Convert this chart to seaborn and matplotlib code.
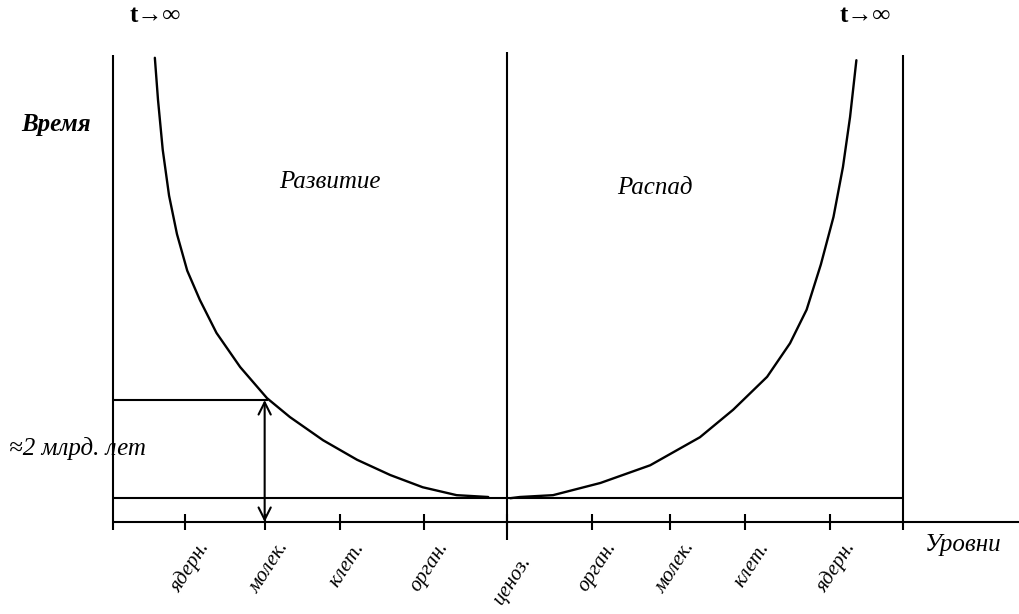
import numpy as np
import pandas as pd
import matplotlib
matplotlib.use("Agg")
import matplotlib.pyplot as plt
import seaborn as sns

# уровни организации (позиции делений по оси)
level_pos = [0.91, 1.92, 2.87, 3.94, 4.99, 6.06, 7.05, 8.0, 9.08]
level_labels = ['ядерн.', 'молек.', 'клет.', 'орган.', 'ценоз.',
                'орган.', 'молек.', 'клет.', 'ядерн.']

# кривая развития (левая ветвь)
dev_x = [0.53, 0.57, 0.63, 0.71, 0.81, 0.94, 1.10, 1.31, 1.61, 1.95,
         2.24, 2.66, 3.09, 3.51, 3.92, 4.35, 4.75]
dev_t = [7.61, 6.92, 6.10, 5.35, 4.72, 4.12, 3.64, 3.10, 2.54, 2.03,
         1.72, 1.34, 1.02, 0.77, 0.57, 0.44, 0.41]

# кривая распада (правая ветвь)
dec_x = [5.03, 5.15, 5.57, 6.17, 6.80, 7.43, 7.85, 8.28, 8.57, 8.78,
         8.96, 9.12, 9.24, 9.33, 9.41]
dec_t = [0.39, 0.41, 0.44, 0.64, 0.93, 1.39, 1.84, 2.38, 2.93, 3.48,
         4.22, 5.00, 5.82, 6.64, 7.57]

t_base = 0.39     # нижний уровень кривых
t_mark = 2.0      # ≈2 млрд. лет
x_mark = 1.92
t_top = 7.66

sns.set_theme(style="white")
plt.rcParams['font.family'] = ['Liberation Serif', 'DejaVu Serif']
plt.rcParams['text.color'] = 'black'

fig = plt.figure(figsize=(10.2, 6.14), dpi=100)
ax = fig.add_axes([0, 0, 1, 1])
ax.set_xlim(-1.430, 11.481)
ax.set_ylim(-1.508, 8.557)
ax.axis('off')

dev = pd.DataFrame({'x': dev_x, 't': dev_t})
dec = pd.DataFrame({'x': dec_x, 't': dec_t})
for d in (dev, dec):
    sns.lineplot(data=d, x='x', y='t', sort=False, color='black', lw=1.7,
                 solid_joinstyle='round', ax=ax)

lw = 1.5
# стенки
ax.vlines(0, -0.13, t_top, color='black', lw=lw)
ax.vlines(10, -0.13, t_top, color='black', lw=lw)
ax.vlines(4.99, -0.3, 7.70, color='black', lw=lw)
# ось уровней и базовая линия
ax.hlines(0, 0, 11.481, color='black', lw=lw)
ax.hlines(t_base, 0, 10, color='black', lw=lw)
ax.hlines(t_mark, 0, 1.96, color='black', lw=lw)

# деления
for p in level_pos:
    ax.vlines(p, -0.13, 0.13, color='black', lw=lw)

ax.annotate('', xy=(x_mark, 0.0), xytext=(x_mark, t_mark),
            arrowprops=dict(arrowstyle='<->', color='black', lw=1.5,
                            mutation_scale=22, shrinkA=0, shrinkB=0))

for p, lab in zip(level_pos, level_labels):
    ypos = -0.5 if p == 4.99 else -0.27
    ax.text(p + 0.16, ypos, lab, rotation=57, ha='right', va='top',
            rotation_mode='anchor', fontsize=15, style='italic')

txt = dict(fontsize=18, style='italic', ha='center', va='center')
ax.text(0.53, 8.31, 't→∞', fontsize=18, weight='bold', ha='center', va='center')
ax.text(9.52, 8.31, 't→∞', fontsize=18, weight='bold', ha='center', va='center')
ax.text(-0.72, 6.51, 'Время', weight='bold', **txt)
ax.text(2.75, 5.58, 'Развитие', **txt)
ax.text(6.86, 5.48, 'Распад', **txt)
ax.text(-1.31, 1.21, '≈2 млрд. лет', fontsize=18, style='italic', ha='left', va='center')
ax.text(10.76, -0.38, 'Уровни', **txt)

fig.savefig('out.png', dpi=100)
